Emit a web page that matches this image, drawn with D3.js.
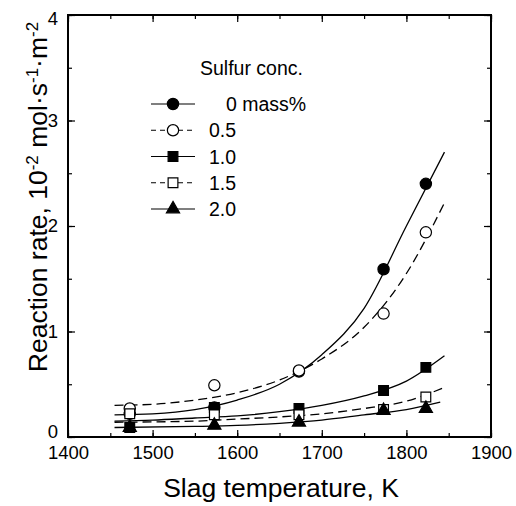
<!DOCTYPE html>
<html><head><meta charset="utf-8">
<script src="https://cdn.jsdelivr.net/npm/d3@7"></script>
<style>body{margin:0;background:#fff}svg{display:block}text{font-family:"Liberation Sans",Arial,sans-serif;fill:#000}</style>
</head><body><svg id="c" width="516" height="506"></svg>
<script>
// ---- data ----
const temps = [1473, 1573, 1673, 1773, 1823];
const s0  = [0.22, 0.28, 0.62, 1.59, 2.40];   // 0 mass%
const s05 = [0.27, 0.49, 0.63, 1.17, 1.94];   // 0.5
const s10 = [0.09, 0.28, 0.27, 0.44, 0.66];   // 1.0
const s15 = [0.22, 0.21, 0.21, 0.26, 0.38];   // 1.5
const s20 = [0.09, 0.11, 0.14, 0.25, 0.27];   // 2.0
// fitted curves
const fitT0  = [1455,1500,1550,1600,1650,1700,1750,1800,1845];
const fit0   = [0.21,0.22,0.26,0.35,0.50,0.78,1.22,2.00,2.70];
const fit05  = [0.30,0.31,0.35,0.42,0.54,0.74,1.04,1.55,2.22];
const fit10  = [0.15,0.16,0.18,0.20,0.24,0.30,0.39,0.53,0.77];
const fitT15 = [1455,1550,1600,1650,1700,1750,1800,1845];
const fit15  = [0.14,0.15,0.17,0.19,0.22,0.27,0.34,0.47];
const fitT20 = [1455,1550,1600,1650,1700,1750,1800,1840];
const fit20  = [0.09,0.10,0.11,0.13,0.16,0.21,0.26,0.33];
const seriesNames = ["0 mass%","0.5","1.0","1.5","2.0"];
const xTicks = [1400,1500,1600,1700,1800,1900];
const yTicks = [0,1,2,3,4];

const series = [
  {name:seriesNames[0], v:s0,  ft:fitT0,  fv:fit0,  sym:d3.symbolCircle,   fill:"#000", dash:null},
  {name:seriesNames[1], v:s05, ft:fitT0,  fv:fit05, sym:d3.symbolCircle,   fill:"#fff", dash:"9,5"},
  {name:seriesNames[2], v:s10, ft:fitT0,  fv:fit10, sym:d3.symbolSquare,   fill:"#000", dash:null},
  {name:seriesNames[3], v:s15, ft:fitT15, fv:fit15, sym:d3.symbolSquare,   fill:"#fff", dash:"9,5"},
  {name:seriesNames[4], v:s20, ft:fitT20, fv:fit20, sym:d3.symbolTriangle, fill:"#000", dash:null}
];
const symSize = {circle:100, square:95, triangle:75};

const L=68, R=491, T=15, B=437;
const x = d3.scaleLinear().domain([1400,1900]).range([L,R]);
const y = d3.scaleLinear().domain([0,4]).range([B,T]);
const svg = d3.select("#c");
const FONT = "Liberation Sans, Arial, sans-serif";

function axisG(axis, tx, ty){ const g=svg.append("g").attr("transform",`translate(${tx},${ty})`).call(axis); g.select(".domain").remove(); g.selectAll("line").attr("stroke","#000").attr("stroke-width",1.2); return g; }
const xMinor = d3.range(1400,1901,50), yMinor = d3.range(0,4.01,0.5);
axisG(d3.axisBottom(x).tickValues(xMinor).tickSize(-4).tickFormat(""),0,B);
axisG(d3.axisBottom(x).tickValues(xTicks).tickSize(-7).tickFormat(""),0,B);
axisG(d3.axisTop(x).tickValues(xMinor).tickSize(-4).tickFormat(""),0,T);
axisG(d3.axisTop(x).tickValues(xTicks).tickSize(-7).tickFormat(""),0,T);
axisG(d3.axisLeft(y).tickValues(yMinor).tickSize(-4).tickFormat(""),L,0);
axisG(d3.axisLeft(y).tickValues(yTicks).tickSize(-7).tickFormat(""),L,0);
axisG(d3.axisRight(y).tickValues(yMinor).tickSize(-4).tickFormat(""),R,0);
axisG(d3.axisRight(y).tickValues(yTicks).tickSize(-7).tickFormat(""),R,0);
// tick labels
const xl = axisG(d3.axisBottom(x).tickValues(xTicks).tickSize(0).tickPadding(9).tickFormat(d3.format("d")),0,B);
xl.selectAll("text").attr("font-size",18.5).style("font-family",FONT);
const yl = axisG(d3.axisLeft(y).tickValues(yTicks).tickSize(0).tickPadding(10).tickFormat(d3.format("d")),L,0);
yl.selectAll("text").attr("font-size",18.5).style("font-family",FONT);
yl.selectAll(".tick").filter(d=>d===0).select("text").attr("dy","0.05em");
yl.selectAll(".tick").filter(d=>d===4).select("text").attr("dy","0.5em");

// frame
svg.append("rect").attr("x",L).attr("y",T).attr("width",R-L).attr("height",B-T).attr("fill","none").attr("stroke","#000").attr("stroke-width",2);

// curves
const line = d3.line().x(d=>x(d[0])).y(d=>y(d[1])).curve(d3.curveMonotoneX);
series.forEach(s=>{
  svg.append("path").attr("d",line(s.ft.map((t,i)=>[t,s.fv[i]]))).attr("fill","none").attr("stroke","#000").attr("stroke-width",1.3).attr("stroke-dasharray",s.dash);
});
function sz(sym){return sym===d3.symbolCircle?symSize.circle:sym===d3.symbolSquare?symSize.square:symSize.triangle;}
series.forEach(s=>{
  svg.append("g").selectAll("path").data(temps.map((t,i)=>[t,s.v[i]])).join("path")
    .attr("transform",d=>`translate(${x(d[0])},${y(d[1])})`)
    .attr("d",d3.symbol().type(s.sym).size(sz(s.sym)))
    .attr("fill",s.fill).attr("stroke","#000").attr("stroke-width",1.2);
});

// legend
svg.append("text").attr("x",200).attr("y",75).attr("font-size",19.5).text("Sulfur conc.");
const ly = d3.scaleLinear().domain([0,4]).range([104,209]);
series.forEach((s,i)=>{
  const yy = ly(i);
  svg.append("line").attr("x1",151).attr("x2",195).attr("y1",yy).attr("y2",yy).attr("stroke","#000").attr("stroke-width",1.2).attr("stroke-dasharray",s.dash?"5,4":null);
  svg.append("path").attr("transform",`translate(173,${yy})`).attr("d",d3.symbol().type(s.sym).size(sz(s.sym))).attr("fill",s.fill).attr("stroke","#000").attr("stroke-width",1.2);
  svg.append("text").attr("x",i===0?226:209).attr("y",yy).attr("dy","0.36em").attr("font-size",19.5).text(s.name);
});

// axis titles
svg.append("text").attr("x",281).attr("y",497).attr("text-anchor","middle").attr("font-size",26.5).text("Slag temperature, K");
const yt = svg.append("text").attr("transform","translate(47,197) rotate(-90)").attr("text-anchor","middle").attr("font-size",26.5);
yt.append("tspan").text("Reaction rate, 10");
yt.append("tspan").attr("dy",-9).attr("font-size",17).text("-2");
yt.append("tspan").attr("dy",9).text(" mol·s");
yt.append("tspan").attr("dy",-9).attr("font-size",17).text("-1");
yt.append("tspan").attr("dy",9).text("·m");
yt.append("tspan").attr("dy",-9).attr("font-size",17).text("-2");
</script></body></html>
